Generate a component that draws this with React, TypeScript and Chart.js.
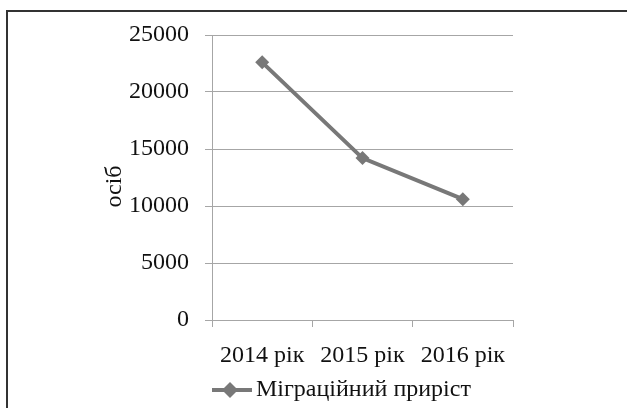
import React, { useEffect, useRef } from "react";
import { Chart, registerables } from "chart.js";

Chart.register(...registerables);

const categories = ["2014 рік", "2015 рік", "2016 рік"];
const migrationGrowth = [22600, 14200, 10600];
const seriesLabel = "Міграційний приріст";
const yTicks = [0, 5000, 10000, 15000, 20000, 25000];
const yTitle = "осіб";

const LINE = "#787878";
const GRID = "#a6a6a6";
const TEXT = "#111111";
const FONT_FAMILY = "'Liberation Serif', 'Times New Roman', serif";

export default function App() {
  const ref = useRef<HTMLCanvasElement>(null);

  useEffect(() => {
    const icon = document.createElement("canvas");
    icon.width = 44;
    icon.height = 18;
    const c = icon.getContext("2d")!;
    c.strokeStyle = LINE;
    c.lineWidth = 4;
    c.beginPath();
    c.moveTo(0, 9);
    c.lineTo(44, 9);
    c.stroke();
    c.fillStyle = LINE;
    c.beginPath();
    c.moveTo(22, 1);
    c.lineTo(30, 9);
    c.lineTo(22, 17);
    c.lineTo(14, 9);
    c.closePath();
    c.fill();

    const font = { family: FONT_FAMILY, size: 24 };

    const chart = new Chart(ref.current!, {
      type: "line",
      data: {
        labels: categories,
        datasets: [
          {
            label: seriesLabel,
            data: migrationGrowth,
            borderColor: LINE,
            backgroundColor: LINE,
            borderWidth: 4,
            pointStyle: "rectRot",
            pointRadius: 7,
            pointBackgroundColor: LINE,
            pointBorderColor: LINE,
            pointBorderWidth: 0,
            tension: 0,
          },
        ],
      },
      options: {
        animation: false,
        responsive: false,
        maintainAspectRatio: false,
        layout: { padding: { left: 0, right: 114, top: 35, bottom: -4 } },
        plugins: {
          legend: {
            position: "bottom",
            fullSize: false,
            align: "start",
            labels: {
              usePointStyle: true,
              pointStyle: icon as any,
              pointStyleWidth: 28,
              padding: 4,
              font,
              color: TEXT,
            },
          },
          tooltip: { enabled: false },
        },
        scales: {
          x: {
            offset: true,
            afterFit: (scale: any) => {
              scale.height = 54;
            },
            grid: {
              display: true,
              offset: true,
              drawOnChartArea: false,
              drawTicks: true,
              tickLength: 7,
              color: GRID,
            },
            border: { color: GRID, width: 1 },
            ticks: { font: { ...font, lineHeight: 1 }, color: TEXT, padding: 17, maxRotation: 0 },
          },
          y: {
            min: 0,
            max: 25000,
            afterBuildTicks: (scale: any) => {
              scale.ticks = yTicks.map((v) => ({ value: v }));
            },
            afterFit: (scale: any) => {
              scale.width = 212;
            },
            grid: { color: GRID, tickLength: 7 },
            border: { color: GRID, width: 1 },
            ticks: {
              font,
              color: TEXT,
              padding: 16,
              callback: (v: any) => String(v),
            },
            title: {
              display: true,
              text: yTitle + "   ",
              font,
              color: TEXT,
              padding: { top: 100, bottom: 0 },
            },
          },
        },
      },
    } as any);

    return () => chart.destroy();
  }, []);

  return (
    <div
      style={{
        position: "absolute",
        left: 0,
        top: 0,
        width: 627,
        height: 408,
        overflow: "hidden",
        background: "#ffffff",
      }}
    >
      <canvas ref={ref} width={627} height={408} style={{ display: "block", width: 627, height: 408 }} />
      <div
        style={{
          position: "absolute",
          left: 6,
          top: 10,
          width: 640,
          height: 430,
          border: "2px solid #333333",
          pointerEvents: "none",
        }}
      />
    </div>
  );
}
